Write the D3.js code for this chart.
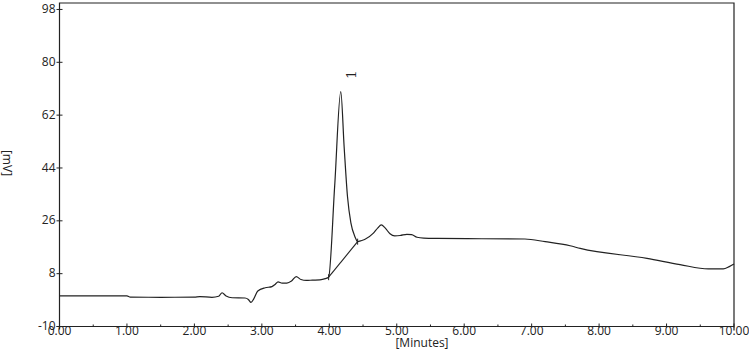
<!DOCTYPE html>
<html>
<head>
  <meta charset="utf-8">
  <title>Chromatogram</title>
  <style>
    body { margin: 0; background: #fff; }
    text { font-family: "Open Sans", sans-serif; font-size: 12px; fill: #222; }
    .trace { fill: none; stroke: #222; stroke-width: 1.2; }
  </style>
  <script src="https://d3js.org/d3.v7.min.js"></script>
</head>
<body>
  <script>
    // retention time (min) and detector signal (mV)
    var times = [0.00, 1.00, 1.05, 1.50, 2.00, 2.08, 2.26, 2.36, 2.41, 2.47, 2.56, 2.75, 2.80, 2.84, 2.88,
      2.94, 3.05, 3.15, 3.20, 3.24, 3.30, 3.37, 3.44, 3.51, 3.58, 3.66, 3.75, 3.86, 3.94, 3.99,
      4.08, 4.17, 4.22, 4.27, 4.32, 4.38, 4.42, 4.48, 4.53, 4.65, 4.72, 4.77, 4.83, 4.90, 4.97,
      5.05, 5.15, 5.22, 5.30, 5.40, 5.60, 6.26, 6.90, 7.20, 7.57, 7.72, 8.71, 9.20,
      9.62, 9.84, 9.93, 10.00];
    var signal = [0.4, 0.4, 0.0, -0.05, 0.0, 0.2, -0.05, 0.3, 1.5, 0.4, -0.2, -0.3, -0.8, -1.8, -0.6,
      2.1, 3.2, 3.6, 4.4, 5.2, 4.8, 4.8, 5.5, 7.0, 6.0, 5.7, 5.8, 5.9, 6.3, 6.8,
      38, 70, 51.2, 34.2, 25.3, 20.6, 18.9, 19.3, 19.7, 21.7, 23.6, 24.6, 23.5, 21.6, 20.9,
      21.0, 21.4, 21.3, 20.4, 20.1, 20.0, 19.9, 19.8, 18.9, 17.5, 16.6, 13.2, 11.1,
      9.6, 9.6, 10.4, 11.3];

    // integrated peak: start / end of the drop baseline and its label
    var peakNames = ["1"];
    var peakStart = [[3.99, 6.8]];
    var peakEnd = [[4.42, 18.9]];
    var peakApex = [[4.33, 75.8]];

    var xTicks = d3.range(0, 10.01, 1);
    var xMinor = d3.range(0.5, 10, 1);
    var yTicks = [-10, 8, 26, 44, 62, 80, 98];

    var width = 749, height = 356;
    var mLeft = 59.5, mRight = 734, mTop = 3, mBottom = 326.5;

    var svg = d3.select('body').append('svg')
      .attr('width', width)
      .attr('height', height);

    var x = d3.scaleLinear().domain([0, 10]).range([mLeft, mRight]);
    var y = d3.scaleLinear().domain([-10, 100.2]).range([mBottom, mTop]);

    // frame
    svg.append('path')
      .attr('d', 'M' + mLeft + ',' + (mBottom + 3) + 'V' + mTop + 'H' + mRight + 'V' + (mBottom + 4))
      .attr('fill', 'none').attr('stroke', '#222').attr('stroke-width', 1.2);
    svg.append('line')
      .attr('x1', mLeft - 3).attr('x2', mRight).attr('y1', mBottom).attr('y2', mBottom)
      .attr('stroke', '#222').attr('stroke-width', 1.2);

    // x ticks
    svg.selectAll('.xt').data(xTicks).enter().append('line')
      .attr('x1', d => x(d)).attr('x2', d => x(d))
      .attr('y1', mBottom - 3).attr('y2', mBottom + 1)
      .attr('stroke', '#222');
    svg.selectAll('.xm').data(xMinor).enter().append('line')
      .attr('x1', d => x(d)).attr('x2', d => x(d))
      .attr('y1', mBottom - 2).attr('y2', mBottom)
      .attr('stroke', '#222');
    svg.selectAll('.xl').data(xTicks).enter().append('text')
      .attr('x', d => x(d)).attr('y', mBottom + 8)
      .attr('text-anchor', 'middle')
      .text(d3.format('.2f'));

    // y ticks
    svg.selectAll('.yt').data(yTicks).enter().append('line')
      .attr('x1', mLeft - 3).attr('x2', mLeft + 3)
      .attr('y1', d => y(d)).attr('y2', d => y(d))
      .attr('stroke', '#222');
    svg.selectAll('.yl').data(yTicks).enter().append('text')
      .attr('x', mLeft - 4).attr('y', d => y(d)).attr('dy', '0.3em')
      .attr('text-anchor', 'end')
      .text(d => d);

    svg.append('text')
      .attr('x', 422).attr('y', 347)
      .attr('text-anchor', 'middle')
      .text('[Minutes]');
    svg.append('text')
      .attr('transform', 'translate(3,163) rotate(90)')
      .attr('text-anchor', 'middle')
      .text('[mV]');

    // trace
    var pts = times.map((t, i) => [t, signal[i]]);
    var line = d3.line()
      .x(d => x(d[0]))
      .y(d => y(d[1]))
      .curve(d3.curveMonotoneX);
    svg.append('path').datum(pts).attr('class', 'trace').attr('d', line);

    // drop baseline with start / end marks
    peakNames.forEach(function (name, i) {
      svg.append('line')
        .attr('x1', x(peakStart[i][0])).attr('y1', y(peakStart[i][1]))
        .attr('x2', x(peakEnd[i][0])).attr('y2', y(peakEnd[i][1]))
        .attr('stroke', '#222').attr('stroke-width', 1.1);
      [peakStart[i], peakEnd[i]].forEach(function (p) {
        svg.append('line')
          .attr('x1', x(p[0])).attr('x2', x(p[0]))
          .attr('y1', y(p[1]) - 3).attr('y2', y(p[1]) + 3)
          .attr('stroke', '#222');
      });
      svg.append('text')
        .attr('transform', 'translate(' + x(peakApex[i][0]) + ',' + y(peakApex[i][1]) + ') rotate(-90)')
        .attr('text-anchor', 'middle')
        .attr('dy', '0.35em')
        .style('font-family', '"DejaVu Serif", serif')
        .style('font-size', '13px')
        .text(name);
    });
  </script>
</body>
</html>
